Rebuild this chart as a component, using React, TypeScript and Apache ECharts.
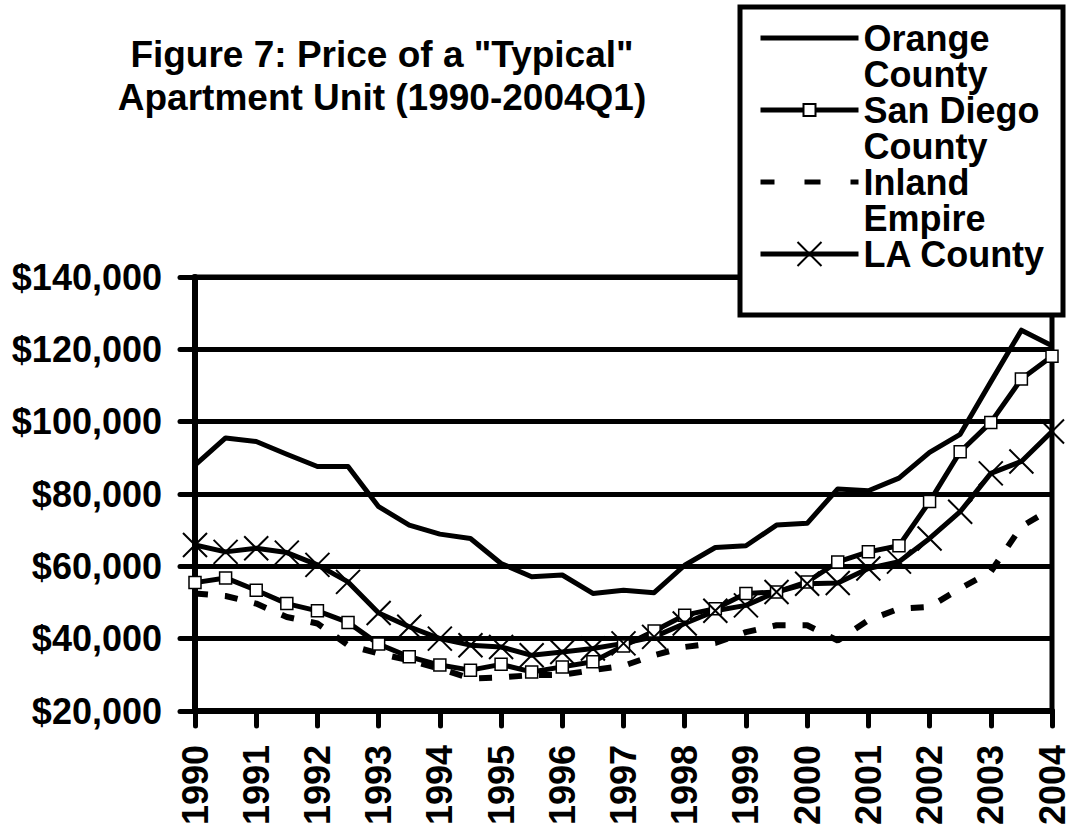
import React, { useEffect, useRef } from "react";
import * as echarts from "echarts";

// Half-year periods, 1990 to 2004 (Q1)
const periods = [
  "1990", "1990.5", "1991", "1991.5", "1992", "1992.5", "1993", "1993.5",
  "1994", "1994.5", "1995", "1995.5", "1996", "1996.5", "1997", "1997.5",
  "1998", "1998.5", "1999", "1999.5", "2000", "2000.5", "2001", "2001.5",
  "2002", "2002.5", "2003", "2003.5", "2004",
];

const orangeCounty = [
  88000, 95500, 94500, 91000, 87600, 87600, 76500, 71400, 68900, 67700,
  60800, 57100, 57600, 52500, 53400, 52700, 60300, 65200, 65700, 71400,
  71900, 81400, 80900, 84400, 91500, 96500, 111000, 125300, 121000,
];

const sanDiegoCounty = [
  55500, 56800, 53400, 49700, 47700, 44500, 38500, 35000, 32700, 31300,
  32900, 30800, 32200, 33600, 38000, 42100, 46500, 48300, 52500, 52900,
  55700, 61200, 64000, 65700, 77900, 91700, 99800, 111800, 118100,
];

const inlandEmpire = [
  52500, 51800, 49700, 46000, 44200, 38200, 35900, 34000, 31700, 29000,
  29300, 29900, 30000, 31300, 32500, 35400, 37700, 38800, 41800, 43700,
  43700, 39500, 45100, 48300, 48800, 53900, 58500, 71000, 76000,
];

const laCounty = [
  65900, 64000, 65000, 63800, 60400, 55700, 47100, 43300, 40000, 38200,
  37700, 35400, 36300, 37300, 38700, 40500, 44200, 47700, 49200, 52900,
  55200, 55400, 59400, 61300, 67700, 75100, 85700, 89000, 97300,
];

const seriesNames = ["Orange County", "San Diego County", "Inland Empire", "LA County"];
const legendLines: Record<string, string[]> = {
  "Orange County": ["Orange", "County"],
  "San Diego County": ["San Diego", "County"],
  "Inland Empire": ["Inland", "Empire"],
  "LA County": ["LA County"],
};
const titleLines = ['Figure 7: Price of a "Typical"', "Apartment Unit (1990-2004Q1)"];
const yMin = 20000;
const yMax = 140000;
const yStep = 20000;

const FONT = "'Liberation Sans', Arial, Helvetica, sans-serif";
const SQUARE = "path://M0,0M24,24M6,6H18V18H6Z";
const CROSS = "path://M0,0L24,24M24,0L0,24";

function fmtMoney(v: number): string {
  return "$" + String(v).replace(/\B(?=(\d{3})+(?!\d))/g, ",");
}

export default function App() {
  const ref = useRef<HTMLDivElement>(null);

  useEffect(() => {
    if (!ref.current) return;
    const chart = echarts.init(ref.current, null, { renderer: "svg" });
    const labelFont = { fontFamily: FONT, fontSize: 36, fontWeight: "bold" as const, color: "#000" };
    const legendText = (lines: number) => ({
      padding: [0, 0, lines > 1 ? -36 : 0, 0],
    });

    chart.setOption({
      animation: false,
      backgroundColor: "#fff",
      title: {
        text: titleLines.join("\n"),
        left: 382,
        top: 33,
        padding: 0,
        textAlign: "center",
        textStyle: { fontFamily: FONT, fontSize: 37, fontWeight: "bold", color: "#000", lineHeight: 43 },
      },
      grid: {
        left: 195,
        right: 13,
        top: 277,
        bottom: 119,
        show: true,
        borderColor: "#000",
        borderWidth: 5,
        backgroundColor: "transparent",
      },
      legend: {
        orient: "vertical",
        left: 758,
        top: 20,
        padding: 0,
        itemGap: 0,
        itemWidth: 98,
        itemHeight: 30,
        selectedMode: false,
        formatter: (name: string) => legendLines[name].map((l) => "{t|" + l + "}").join("\n"),
        textStyle: {
          color: "#000",
          rich: {
            t: { fontFamily: FONT, fontSize: 36, fontWeight: "bold", color: "#000", lineHeight: 36 },
          },
        },
        lineStyle: { width: 5, color: "#000" },
        data: [
          {
            name: seriesNames[0],
            icon: "path://M0,0H98V5H0Z",
            itemStyle: { color: "#000", borderWidth: 0 },
            textStyle: legendText(2),
          },
          { name: seriesNames[1], textStyle: legendText(2) },
          {
            name: seriesNames[2],
            icon: "path://M0,0H14V5H0Z M44,0H60V5H44Z M90,0H98V5H90Z",
            itemStyle: { color: "#000", borderWidth: 0 },
            textStyle: legendText(2),
          },
          { name: seriesNames[3], textStyle: legendText(1) },
        ],
      },
      graphic: [
        {
          type: "rect",
          z: 3,
          shape: { x: 740, y: 7, width: 323, height: 308 },
          style: { fill: "#fff", stroke: "#000", lineWidth: 5 },
        },
      ],
      xAxis: {
        type: "category",
        data: periods,
        boundaryGap: false,
        axisLine: { lineStyle: { color: "#000", width: 6 } },
        axisTick: { show: true, interval: 1, length: 15, lineStyle: { color: "#000", width: 5, cap: "round" } },
        axisLabel: {
          ...labelFont,
          interval: 1,
          rotate: 90,
          margin: 34,
          formatter: (v: string) => v.slice(0, 4),
        },
        splitLine: { show: false },
      },
      yAxis: {
        type: "value",
        min: yMin,
        max: yMax,
        interval: yStep,
        axisLine: { show: true, lineStyle: { color: "#000", width: 6 } },
        axisTick: { show: true, length: 15, lineStyle: { color: "#000", width: 5, cap: "round" } },
        axisLabel: { ...labelFont, margin: 33, formatter: (v: number) => fmtMoney(v) },
        splitLine: { show: true, lineStyle: { color: "#000", width: 5 } },
      },
      series: [
        {
          name: seriesNames[0],
          type: "line",
          data: orangeCounty,
          symbol: "none",
          lineStyle: { color: "#000", width: 5, join: "round" },
          itemStyle: { color: "#000" },
        },
        {
          name: seriesNames[1],
          type: "line",
          data: sanDiegoCounty,
          symbol: SQUARE,
          symbolSize: 24,
          showAllSymbol: true,
          lineStyle: { color: "#000", width: 5, join: "round" },
          itemStyle: { color: "#fff", borderColor: "#000", borderWidth: 1.5 },
        },
        {
          name: seriesNames[2],
          type: "line",
          data: inlandEmpire,
          symbol: "none",
          lineStyle: { color: "#000", width: 6, type: [13, 17] },
          itemStyle: { color: "#000" },
        },
        {
          name: seriesNames[3],
          type: "line",
          data: laCounty,
          symbol: CROSS,
          symbolSize: 24,
          showAllSymbol: true,
          lineStyle: { color: "#000", width: 5, join: "round" },
          itemStyle: { color: "#000", borderColor: "#000", borderWidth: 2 },
        },
      ],
    });

    return () => chart.dispose();
  }, []);

  return (
    <div
      ref={ref}
      style={{ position: "absolute", left: 0, top: 0, width: 1070, height: 830 }}
    />
  );
}
